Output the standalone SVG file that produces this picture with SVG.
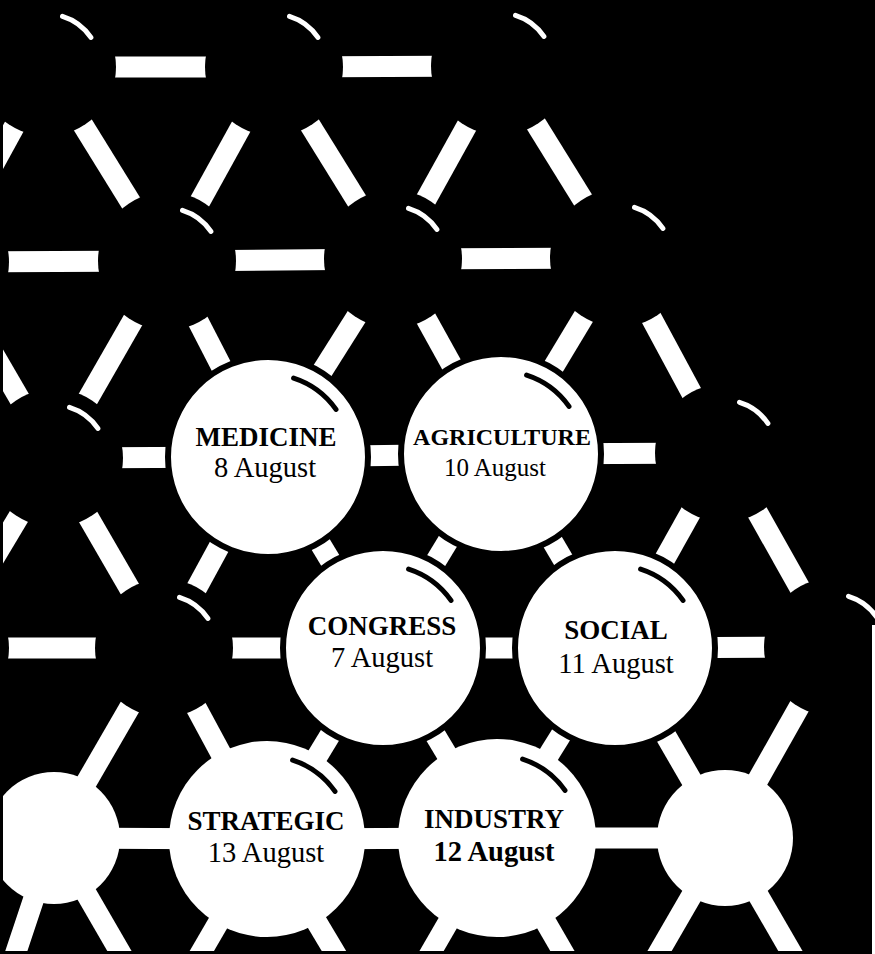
<svg xmlns="http://www.w3.org/2000/svg" width="875" height="954" viewBox="0 0 875 954">
<defs>
<style>
.bar{stroke:#fff;stroke-width:21;stroke-linecap:butt}
.dark{fill:#000}
.lit{fill:#fff;stroke:#000;stroke-width:6}
.plain{fill:#fff}
.hlB{fill:none;stroke:#fff;stroke-width:5;stroke-linecap:round}
.hlW{fill:none;stroke:#000;stroke-width:5;stroke-linecap:round}
.t{font-family:"Liberation Serif","Times New Roman",serif;text-anchor:middle;fill:#000}
.h{font-weight:bold;font-size:27px}
.d{font-size:28.5px}
</style>
<path id="arcB" d="M15.5,-50.7 A53,53 0 0 1 43.9,-29.6"/>
<path id="arcW" d="M25.6,-78.9 A83,83 0 0 1 68,-47.6"/>
</defs>
<rect width="875" height="954" fill="#000"/>
<g id="connectors">
<line class="bar" x1="47" y1="67" x2="274" y2="67"/>
<line class="bar" x1="274" y1="67" x2="500" y2="66"/>
<line class="bar" x1="47" y1="67" x2="-60" y2="262"/>
<line class="bar" x1="47" y1="67" x2="167" y2="261"/>
<line class="bar" x1="274" y1="67" x2="167" y2="261"/>
<line class="bar" x1="274" y1="67" x2="393" y2="259"/>
<line class="bar" x1="500" y1="66" x2="393" y2="259"/>
<line class="bar" x1="500" y1="66" x2="619" y2="258"/>
<line class="bar" x1="-60" y1="262" x2="167" y2="261"/>
<line class="bar" x1="167" y1="261" x2="393" y2="259"/>
<line class="bar" x1="393" y1="259" x2="619" y2="258"/>
<line class="bar" x1="-60" y1="262" x2="54" y2="458"/>
<line class="bar" x1="167" y1="261" x2="54" y2="458"/>
<line class="bar" x1="167" y1="261" x2="268" y2="457"/>
<line class="bar" x1="393" y1="259" x2="268" y2="457"/>
<line class="bar" x1="393" y1="259" x2="501" y2="454"/>
<line class="bar" x1="619" y1="258" x2="501" y2="454"/>
<line class="bar" x1="619" y1="258" x2="724" y2="453"/>
<line class="bar" x1="54" y1="458" x2="268" y2="457"/>
<line class="bar" x1="268" y1="457" x2="501" y2="454"/>
<line class="bar" x1="501" y1="454" x2="724" y2="453"/>
<line class="bar" x1="54" y1="458" x2="-60" y2="648"/>
<line class="bar" x1="54" y1="458" x2="164" y2="648"/>
<line class="bar" x1="268" y1="457" x2="164" y2="648"/>
<line class="bar" x1="268" y1="457" x2="383" y2="648"/>
<line class="bar" x1="501" y1="454" x2="383" y2="648"/>
<line class="bar" x1="501" y1="454" x2="615" y2="648"/>
<line class="bar" x1="724" y1="453" x2="615" y2="648"/>
<line class="bar" x1="724" y1="453" x2="833" y2="647"/>
<line class="bar" x1="-60" y1="648" x2="164" y2="648"/>
<line class="bar" x1="164" y1="648" x2="383" y2="648"/>
<line class="bar" x1="383" y1="648" x2="615" y2="648"/>
<line class="bar" x1="615" y1="648" x2="833" y2="647"/>
<line class="bar" x1="164" y1="648" x2="54" y2="838"/>
<line class="bar" x1="164" y1="648" x2="267" y2="839"/>
<line class="bar" x1="383" y1="648" x2="267" y2="839"/>
<line class="bar" x1="383" y1="648" x2="497" y2="838"/>
<line class="bar" x1="615" y1="648" x2="497" y2="838"/>
<line class="bar" x1="615" y1="648" x2="725" y2="838"/>
<line class="bar" x1="833" y1="647" x2="725" y2="838"/>
<line class="bar" x1="54" y1="838" x2="267" y2="839"/>
<line class="bar" x1="267" y1="839" x2="497" y2="838"/>
<line class="bar" x1="497" y1="838" x2="725" y2="838"/>
<line class="bar" x1="54" y1="838" x2="0" y2="1000"/>
<line class="bar" x1="54" y1="838" x2="164" y2="1028"/>
<line class="bar" x1="267" y1="839" x2="157" y2="1028"/>
<line class="bar" x1="267" y1="839" x2="380" y2="1028"/>
<line class="bar" x1="497" y1="838" x2="387" y2="1028"/>
<line class="bar" x1="497" y1="838" x2="607" y2="1028"/>
<line class="bar" x1="725" y1="838" x2="615" y2="1028"/>
<line class="bar" x1="725" y1="838" x2="835" y2="1028"/>
</g>
<g id="n-r1a"><circle class="dark" cx="47" cy="67" r="69"/><use href="#arcB" class="hlB" x="47" y="67"/></g>
<g id="n-r1b"><circle class="dark" cx="274" cy="67" r="69"/><use href="#arcB" class="hlB" x="274" y="67"/></g>
<g id="n-r1c"><circle class="dark" cx="500" cy="66" r="69"/><use href="#arcB" class="hlB" x="500" y="66"/></g>
<g id="n-r2l"><circle class="dark" cx="-60" cy="262" r="69"/></g>
<g id="n-r2a"><circle class="dark" cx="167" cy="261" r="69"/><use href="#arcB" class="hlB" x="167" y="261"/></g>
<g id="n-r2b"><circle class="dark" cx="393" cy="259" r="69"/><use href="#arcB" class="hlB" x="393" y="259"/></g>
<g id="n-r2c"><circle class="dark" cx="619" cy="258" r="69"/><use href="#arcB" class="hlB" x="619" y="258"/></g>
<g id="n-r3a"><circle class="dark" cx="54" cy="458" r="69"/><use href="#arcB" class="hlB" x="54" y="458"/></g>
<g id="n-r3d"><circle class="dark" cx="724" cy="453" r="69"/><use href="#arcB" class="hlB" x="724" y="453"/></g>
<g id="n-r4l"><circle class="dark" cx="-60" cy="648" r="69"/></g>
<g id="n-r4a"><circle class="dark" cx="164" cy="648" r="69"/><use href="#arcB" class="hlB" x="164" y="648"/></g>
<g id="n-r4d"><circle class="dark" cx="833" cy="647" r="69"/><use href="#arcB" class="hlB" x="833" y="647"/></g>
<g id="medicine"><circle class="lit" cx="268" cy="457" r="100"/><use href="#arcW" class="hlW" x="268" y="457"/>
<text class="t h" x="266" y="446">MEDICINE</text><text class="t d" x="265" y="477">8 August</text></g>
<g id="agriculture"><circle class="lit" cx="501" cy="454" r="100"/><use href="#arcW" class="hlW" x="501" y="454"/>
<text class="t" x="502" y="445" font-weight="bold" font-size="24">AGRICULTURE</text><text class="t" x="495" y="476" font-size="25">10 August</text></g>
<g id="congress"><circle class="lit" cx="383" cy="648" r="100"/><use href="#arcW" class="hlW" x="383" y="648"/>
<text class="t h" x="382" y="635">CONGRESS</text><text class="t d" x="382" y="667">7 August</text></g>
<g id="social"><circle class="lit" cx="615" cy="648" r="100"/><use href="#arcW" class="hlW" x="615" y="648"/>
<text class="t h" x="616" y="639">SOCIAL</text><text class="t d" x="616" y="673">11 August</text></g>
<g id="n-r5l"><circle class="plain" cx="54" cy="838" r="66"/></g>
<g id="strategic"><circle class="plain" cx="267" cy="839" r="98"/><use href="#arcW" class="hlW" x="267" y="839"/>
<text class="t h" x="266" y="830">STRATEGIC</text><text class="t d" x="266" y="862">13 August</text></g>
<g id="industry"><circle class="plain" cx="497" cy="838" r="99"/><use href="#arcW" class="hlW" x="497" y="838"/>
<text class="t h" x="494" y="828">INDUSTRY</text><text class="t d" x="494" y="861" font-weight="bold">12 August</text></g>
<g id="n-r5r"><circle class="plain" cx="725" cy="838" r="68"/></g>
<rect x="0" y="951" width="875" height="3" fill="#000"/>
<rect x="0" y="0" width="3" height="954" fill="#000"/>
<rect x="872" y="625" width="3" height="329" fill="#fff"/>
</svg>
